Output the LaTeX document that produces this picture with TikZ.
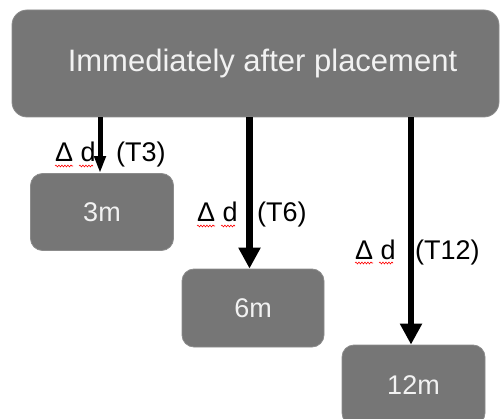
\documentclass[tikz,border=0pt]{standalone}
\usepackage{fontspec}
\setmainfont{Liberation Sans}
\usetikzlibrary{arrows.meta,decorations.pathmorphing,calc}
\definecolor{boxgray}{RGB}{118,118,118}
\definecolor{boxedge}{RGB}{140,140,140}
\definecolor{txtlight}{RGB}{242,242,242}
\tikzset{
  x=1pt, y=-1pt,
  greybox/.style={draw=boxedge, line width=0.8pt, fill=boxgray, rounded corners=12pt,
    text=txtlight, font=\fontsize{27}{30}\selectfont, inner sep=0pt},
  bigarrow/.style={draw=black, line width=6.5pt, -{Triangle[width=21pt,length=21pt]}},
  smallarrow/.style={draw=black, line width=5pt, -{Triangle[width=11pt,length=17pt]}},
  lbl/.style={font=\fontsize{27}{30}\selectfont, text=black, inner sep=0pt},
  squig/.style={draw=red, line width=0.6pt, decorate,
    decoration={snake, amplitude=0.9pt, segment length=3pt}}
}
\begin{document}
\begin{tikzpicture}
\useasboundingbox (0,0) rectangle (502,419);
\path[clip] (0,0) rectangle (502,419);

\node[greybox, rounded corners=15pt, minimum width=487pt, minimum height=107pt,
  font=\fontsize{31}{34}\selectfont] (top) at (255.5,63.5) {\hspace*{14pt}\raisebox{-3pt}{Immediately after placement}};

\node[greybox, minimum width=143pt, minimum height=77pt] (b1) at (102,212) {3m};
\node[greybox, minimum width=142pt, minimum height=78pt] (b2) at (253,308) {6m};
\node[greybox, minimum width=143pt, minimum height=80pt] (b3) at (413.5,385) {12m};

\draw[smallarrow] (top.south -| 100,0) -- (b1.north -| 100,0);
\draw[bigarrow] (top.south -| 249.5,0) -- (b2.north -| 249.5,0);
\draw[bigarrow] (top.south -| 411,0) -- (b3.north -| 411,0);

% labels
\node[lbl, anchor=base west] (d1) at (55,162) {Δ d};
\node[lbl, anchor=base west] (t1) at (116,162) {(T3)};
\node[lbl, anchor=base west] (d2) at (197,222) {Δ d};
\node[lbl, anchor=base west] (t2) at (257,222) {(T6)};
\node[lbl, anchor=base west] (d3) at (355,259) {Δ d};
\node[lbl, anchor=base west] (t3) at (415,259) {(T12)};

% spell-check squiggles
\foreach \n in {d1,d2,d3}{
  \draw[squig] ($(\n.base west)+(0,4)$) -- ++(18,0);
  \draw[squig] ($(\n.base west)+(24,4)$) -- ++(14,0);
}
\end{tikzpicture}
\end{document}
